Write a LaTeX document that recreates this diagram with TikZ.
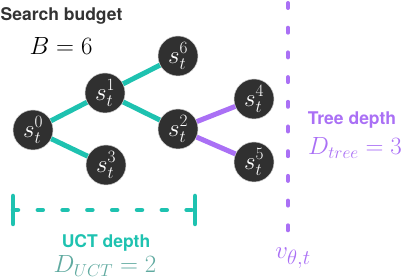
\documentclass[tikz,border=0pt]{standalone}
\usepackage{amsmath,amssymb}
\usepackage{fontspec}
\setsansfont{TeX Gyre Heros}
\usepackage{tikz}
\usetikzlibrary{positioning,calc}
\definecolor{uctteal}{RGB}{30,194,176}
\definecolor{uctgray}{RGB}{96,170,160}
\definecolor{treepurple}{RGB}{170,112,245}
\definecolor{nodedark}{RGB}{48,48,48}
\tikzset{
    state/.style={circle, fill=nodedark, draw=white!80!black, line width=0.5pt, minimum size=40pt, inner sep=0pt, text=white, font=\fontsize{24}{24}\selectfont},
    uctedge/.style={uctteal, line width=5pt},
    treeedge/.style={treepurple, line width=5pt},
    heading/.style={font=\fontsize{17.5}{20}\selectfont\sffamily\bfseries}
}

\begin{document}
\begin{tikzpicture}[x=1pt, y=-1pt]
\useasboundingbox (0,0) rectangle (402,280);
% states
\node[state] (s0) at (33,130) {$s_t^0$};
\node[state] (s1) at (105,93) {$s_t^1$};
\node[state] (s6) at (178,56) {$s_t^6$};
\node[state] (s2) at (178,129) {$s_t^2$};
\node[state] (s3) at (106,165) {$s_t^3$};
\node[state] (s4) at (254,99) {$s_t^4$};
\node[state] (s5) at (254,162) {$s_t^5$};

% edges
\draw[uctedge] (s0) -- (s1);
\draw[uctedge] (s0) -- (s3);
\draw[uctedge] (s1) -- (s6);
\draw[uctedge] (s1) -- (s2);
\draw[treeedge] (s2) -- (s4);
\draw[treeedge] (s2) -- (s5);

% search budget
\node[heading, text=black!80] (budget) at (61.5,16) {Search budget};
\node[font=\fontsize{25}{27}\selectfont] (bval) at (61,46) {$B=6$};

% tree depth
\coordinate (vtop) at (288,3);
\coordinate (vbot) at (288,231);
\draw[treepurple, line width=4pt, line cap=round, dash pattern=on 5pt off 19.7pt] (vtop) -- (vbot);
\node[heading, text=treepurple] (treelab) at (352,120) {Tree depth};
\node[font=\fontsize{25}{27}\selectfont, text=treepurple] (treeval) at (355,148) {$D_{tree}=3$};
\node[font=\fontsize{32}{34}\selectfont, text=treepurple] (vval) at (293,258) {$v_{\theta,t}$};

% uct depth
\coordinate (ul) at (13,210);
\coordinate (ur) at (195,210);
\draw[uctteal, line width=4.5pt, line cap=round] ($(ul)+(0,-14)$) -- ($(ul)+(0,14)$);
\draw[uctteal, line width=4.5pt, line cap=round] ($(ur)+(0,-14)$) -- ($(ur)+(0,14)$);
\draw[uctteal, line width=4.5pt, line cap=round, dash pattern=on 5pt off 19.8pt] (ul) -- (ur);
\node[heading, text=uctteal] (uctlab) at (106,243) {UCT depth};
\node[font=\fontsize{26}{28}\selectfont, text=uctgray] (uctval) at (105,266) {$D_{UCT}=2$};
\end{tikzpicture}
\end{document}
